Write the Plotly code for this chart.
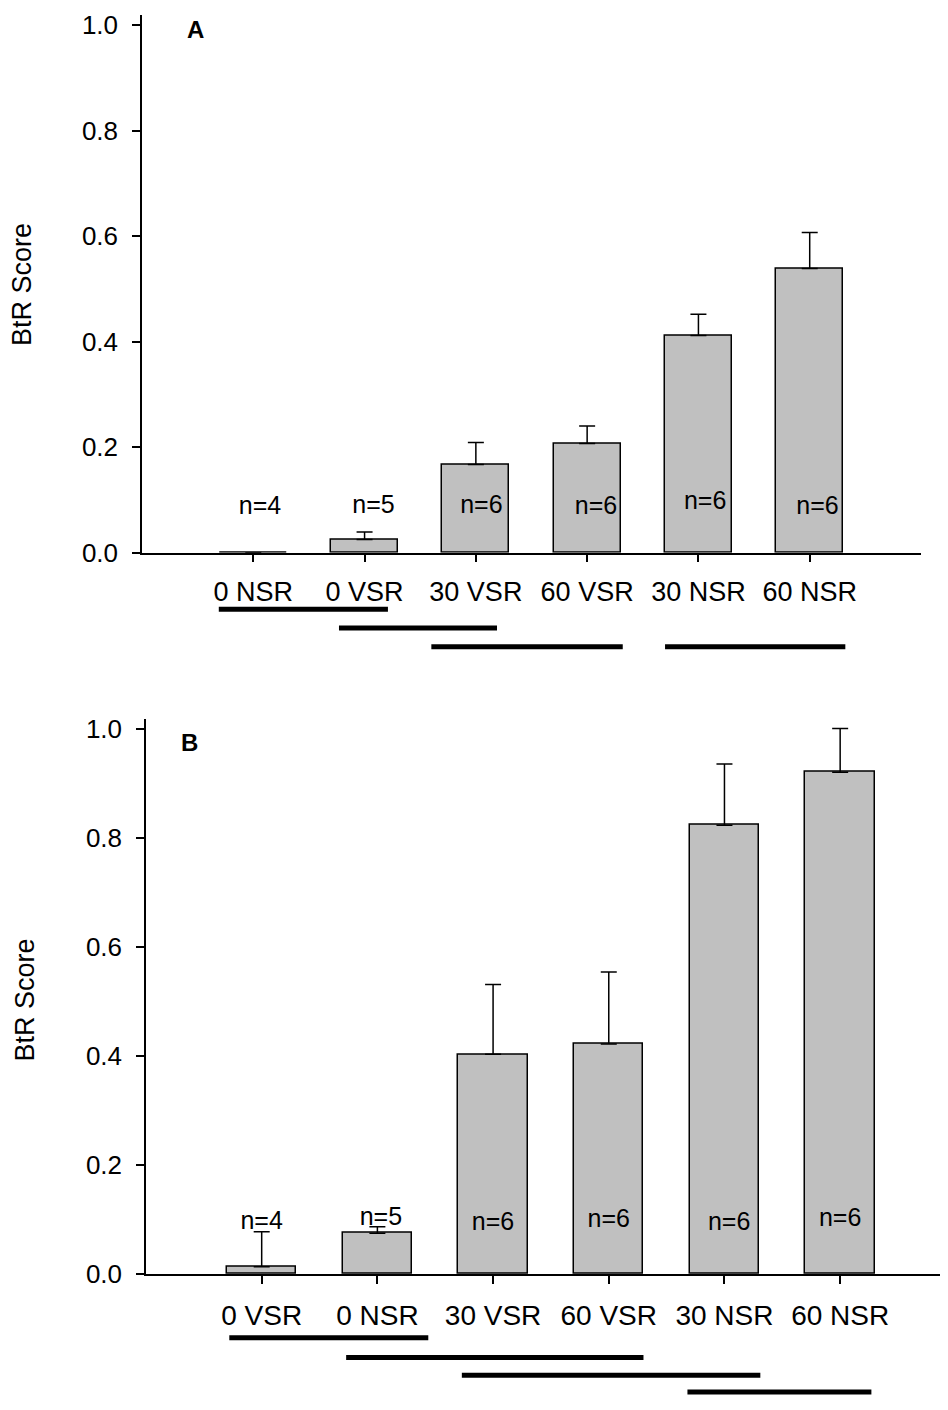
import plotly.graph_objects as go

PAGE_W, PAGE_H = 948, 1410
OFF = 8  # default body margin of the written page
W, H = PAGE_W - 2 * OFF, PAGE_H - 2 * OFF
FONT = "Liberation Sans, Arial, sans-serif"


def px(x):
    return (x - OFF) / W


def py(y):
    return 1 - (y - OFF) / H


# ---------- Panel A data ----------
cats_A = ["0 NSR", "0 VSR", "30 VSR", "60 VSR", "30 NSR", "60 NSR"]
vals_A = [0.0, 0.025, 0.167, 0.207, 0.412, 0.539]
err_A = [0.0, 0.014, 0.042, 0.033, 0.040, 0.068]
nlab_A = ["n=4", "n=5", "n=6", "n=6", "n=6", "n=6"]
ny_A = [0.086, 0.087, 0.087, 0.086, 0.095, 0.086]
# significance groupings (category-index spans) and their row
sig_A_start = [-0.31, 0.77, 1.60, 3.70]
sig_A_end = [1.21, 2.19, 3.32, 5.32]
sig_A_row = [613, 632, 651, 651]

# ---------- Panel B data ----------
cats_B = ["0 VSR", "0 NSR", "30 VSR", "60 VSR", "30 NSR", "60 NSR"]
vals_B = [0.0135, 0.075, 0.403, 0.422, 0.823, 0.920]
err_B = [0.064, 0.012, 0.128, 0.132, 0.112, 0.080]
nlab_B = ["n=4", "n=5", "n=6", "n=6", "n=6", "n=6"]
ny_B = [0.095, 0.102, 0.093, 0.098, 0.093, 0.100]
sig_B_start = [-0.28, 0.73, 1.73, 3.68]
sig_B_end = [1.44, 3.30, 4.31, 5.27]
sig_B_row = [1352, 1372, 1390, 1407]

BAR_COLOR = "#c0c0c0"

fig = go.Figure()


def add_panel(cats, vals, errs, nlab, ny, xa, ya, nx_off):
    idx = list(range(len(cats)))
    fig.add_trace(go.Bar(
        x=idx, y=vals, width=0.6,
        marker=dict(color=BAR_COLOR, line=dict(color="black", width=1.5)),
        error_y=dict(type="data", symmetric=False, array=errs,
                     arrayminus=[0] * len(errs), color="black",
                     thickness=1.5, width=8),
        xaxis=xa, yaxis=ya, showlegend=False, hoverinfo="skip"))
    fig.add_trace(go.Scatter(
        x=[i + o for i, o in zip(idx, nx_off)], y=ny, mode="text", text=nlab,
        textfont=dict(family=FONT, size=25, color="black"),
        xaxis=xa, yaxis=ya, showlegend=False, hoverinfo="skip",
        cliponaxis=False))


add_panel(cats_A, vals_A, err_A, nlab_A, ny_A, "x", "y",
          [0.06, 0.08, 0.05, 0.08, 0.06, 0.07])
add_panel(cats_B, vals_B, err_B, nlab_B, ny_B, "x2", "y2",
          [0.0, 0.03, 0.0, 0.0, 0.04, 0.0])

axis_common = dict(showline=True, linecolor="black", linewidth=1.5,
                   ticks="outside", ticklen=8, tickwidth=1.5, tickcolor="black",
                   showgrid=False, zeroline=False)

tick_vals = [0, 0.2, 0.4, 0.6, 0.8, 1.0]
tick_text = ["0.0", "0.2", "0.4", "0.6", "0.8", "1.0"]

# pixel of zero and pixels per unit for each panel
yA0, yA1 = 555.5, 535.0
yB0, yB1 = 1287.5, 553.5
fig.update_layout(
    xaxis=dict(domain=[px(142), px(921)], range=[-1, 6], tickmode="array",
               tickvals=list(range(6)), ticktext=cats_A, anchor="y",
               tickfont=dict(family=FONT, size=27, color="black"),
               ticklabelstandoff=6, **axis_common),
    yaxis=dict(domain=[py(yA0), py(yA0 - 1.02 * yA1)], range=[0, 1.02],
               tickvals=tick_vals, ticktext=tick_text,
               anchor="x", tickfont=dict(family=FONT, size=26, color="black"),
               ticklabelstandoff=9, **axis_common),
    xaxis2=dict(domain=[px(146), 1.0], range=[-1, 5.863], tickmode="array",
                tickvals=list(range(6)), ticktext=cats_B, anchor="y2",
                tickfont=dict(family=FONT, size=28, color="black"),
                ticklabelstandoff=8, **axis_common),
    yaxis2=dict(domain=[py(yB0), py(yB0 - 1.018 * yB1)], range=[0, 1.018],
                tickvals=tick_vals, ticktext=tick_text,
                anchor="x2", tickfont=dict(family=FONT, size=26, color="black"),
                ticklabelstandoff=9, **axis_common),
)

shapes = []
for s, e, r in zip(sig_A_start, sig_A_end, sig_A_row):
    shapes.append(dict(type="line", xref="x", yref="paper", x0=s, x1=e,
                       y0=py(r), y1=py(r), line=dict(color="black", width=5)))
for s, e, r in zip(sig_B_start, sig_B_end, sig_B_row):
    shapes.append(dict(type="line", xref="x2", yref="paper", x0=s, x1=e,
                       y0=py(r), y1=py(r), line=dict(color="black", width=5)))

annotations = [
    dict(text="<b>A</b>", xref="paper", yref="paper", x=px(195.5), y=py(25),
         xanchor="center", yanchor="middle",
         showarrow=False, font=dict(family=FONT, size=24, color="black")),
    dict(text="<b>B</b>", xref="paper", yref="paper", x=px(189), y=py(748),
         xanchor="center", yanchor="middle",
         showarrow=False, font=dict(family=FONT, size=24, color="black")),
    dict(text="BtR Score", xref="paper", yref="paper", x=px(22), y=py(284),
         xanchor="center", yanchor="middle",
         textangle=-90, showarrow=False, font=dict(family=FONT, size=27, color="black")),
    dict(text="BtR Score", xref="paper", yref="paper", x=px(25), y=py(1010),
         xanchor="center", yanchor="middle",
         textangle=-90, showarrow=False, font=dict(family=FONT, size=27, color="black")),
]

fig.update_layout(width=W, height=H, margin=dict(l=0, r=0, t=0, b=0),
                  paper_bgcolor="white", plot_bgcolor="white",
                  shapes=shapes, annotations=annotations, bargap=0)

fig.write_html("out.html", config={"displayModeBar": False})
